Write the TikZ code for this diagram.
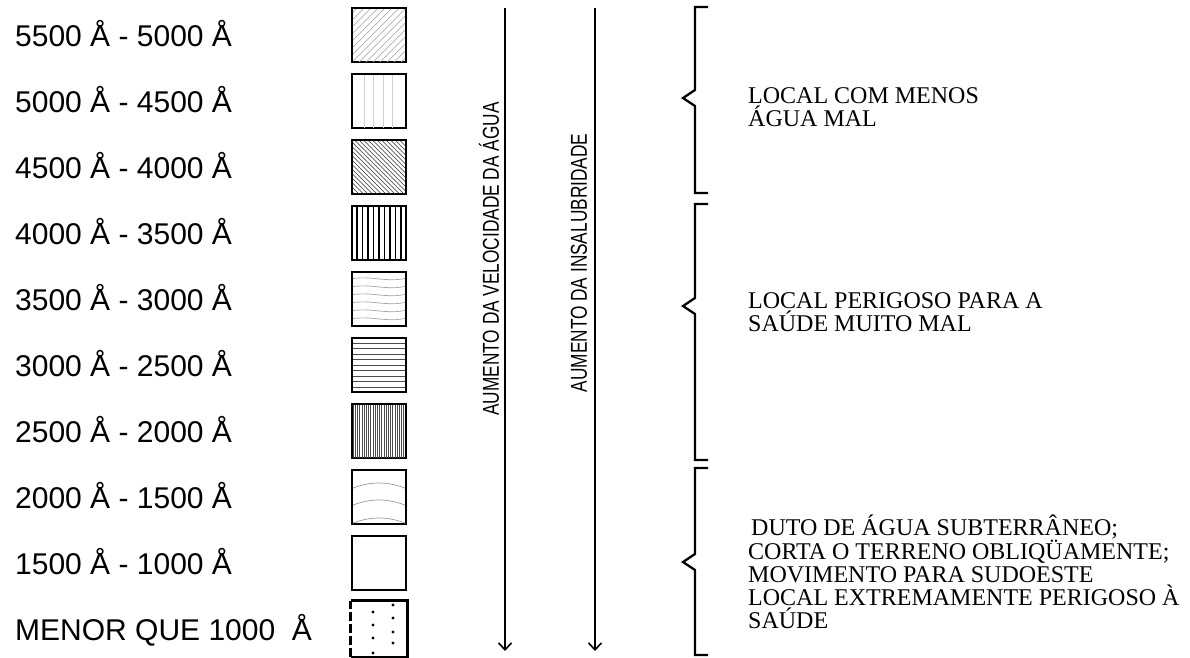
\documentclass[tikz,border=0pt]{standalone}
\usepackage{fontspec}
\setmainfont{Liberation Serif}
\setsansfont{Liberation Sans}
\usetikzlibrary{arrows.meta}
\begin{document}
\begin{tikzpicture}[x=1pt,y=-1pt,
  lbl/.style={anchor=base west,inner sep=0pt,font=\sffamily\fontsize{30}{34}\selectfont},
  boxn/.style={draw,line width=2.8pt,minimum width=54pt,minimum height=54pt,inner sep=0pt},
  vlbl/.style={rotate=90,inner sep=0pt,font=\sffamily\fontsize{23}{26}\selectfont},
  rtxt/.style={anchor=west,align=left,inner sep=0pt,font=\fontsize{24}{23}\selectfont},
  arr/.style={line width=1.6pt,-{Straight Barb[length=7pt,width=13pt,line width=1.6pt]}},
  brace/.style={line width=2.3pt,line join=miter},
  hatch/.style={line width=0.7pt}
]
\useasboundingbox (0,0) rectangle (1190,657);

% left labels
\node[lbl] (l1)  at (15,46)  {5500 Å - 5000 Å};
\node[lbl] (l2)  at (15,112) {5000 Å - 4500 Å};
\node[lbl] (l3)  at (15,178) {4500 Å - 4000 Å};
\node[lbl] (l4)  at (15,244) {4000 Å - 3500 Å};
\node[lbl] (l5)  at (15,310) {3500 Å - 3000 Å};
\node[lbl] (l6)  at (15,376) {3000 Å - 2500 Å};
\node[lbl] (l7)  at (15,442) {2500 Å - 2000 Å};
\node[lbl] (l8)  at (15,508) {2000 Å - 1500 Å};
\node[lbl] (l9)  at (15,574) {1500 Å - 1000 Å};
\node[lbl] (l10) at (15,640) {MENOR QUE 1000~ Å};

% boxes
\node[boxn] (b1)  at (379,35)  {};
\node[boxn] (b2)  at (379,101) {};
\node[boxn] (b3)  at (379,167) {};
\node[boxn] (b4)  at (379,233) {};
\node[boxn] (b5)  at (379,299) {};
\node[boxn] (b6)  at (379,365) {};
\node[boxn] (b7)  at (379,431) {};
\node[boxn] (b8)  at (379,497) {};
\node[boxn] (b9)  at (379,563) {};
\node[boxn,draw=none] (b10) at (379,629) {};
\draw[line width=2.8pt] (b10.north west) -- (b10.north east) -- (b10.south east) -- (b10.south west);
\draw[line width=2.8pt,dash pattern=on 9pt off 3pt] (b10.south west) -- (b10.north west);

% patterns
\begin{scope}[shift={(379,35)}]
  \clip (-26,-26) rectangle (26,26);
  \foreach \k in {-56,-49,...,56} \draw[hatch,black!30] (\k-28,28) -- (\k+28,-28);
\end{scope}
\begin{scope}[shift={(379,101)}]
  \clip (-26,-26) rectangle (26,26);
  \foreach \k in {-15,-6,4,13} \draw[hatch,black!18] (\k,-27) -- (\k,27);
\end{scope}
\begin{scope}[shift={(379,167)}]
  \clip (-26,-26) rectangle (26,26);
  \foreach \k in {-56,-51.5,...,56} \draw[hatch,black!80] (\k-28,-28) -- (\k+28,28);
\end{scope}
\begin{scope}[shift={(379,233)}]
  \clip (-26,-26) rectangle (26,26);
  \foreach \k in {-22,-16.5,...,23} \draw[line width=1.1pt,black] (\k,-27) -- (\k,27);
\end{scope}
\begin{scope}[shift={(379,299)}]
  \clip (-26,-26) rectangle (26,26);
  \foreach \k in {-20,-12,...,21} \draw[hatch,black!35] (-28,\k) .. controls (-10,\k-4) and (8,\k+4) .. (28,\k-1);
\end{scope}
\begin{scope}[shift={(379,365)}]
  \clip (-26,-26) rectangle (26,26);
  \foreach \k in {-22,-16.5,...,23} \draw[hatch,black!70] (-28,\k) -- (28,\k);
\end{scope}
\begin{scope}[shift={(379,431)}]
  \clip (-26,-26) rectangle (26,26);
  \foreach \k in {-26,-23.8,...,26} \draw[line width=0.6pt,black!70] (\k,-27) -- (\k,27);
\end{scope}
\begin{scope}[shift={(379,497)}]
  \clip (-26,-26) rectangle (26,26);
  \foreach \k in {-12,5,23} \draw[hatch,black!40] (-28,\k+4) .. controls (-10,\k-4) and (10,\k-4) .. (28,\k+4);
\end{scope}
\begin{scope}[shift={(379,629)}]
  \foreach \p in {(-6,-17),(-6,-4),(-6,9),(-6,24),(14,-24),(14,-11),(14,3),(14,14)}
    \fill \p circle (1.6);
\end{scope}

% arrows
\coordinate (a1s) at (505,8);
\coordinate (a1e) at (505,651);
\coordinate (a2s) at (595,8);
\coordinate (a2e) at (595,651);
\draw[arr] (a1s) -- (a1e);
\draw[arr] (a2s) -- (a2e);
\node[vlbl] (t1) at (489,259) {\scalebox{0.75}[1]{AUMENTO DA VELOCIDADE DA ÁGUA}};
\node[vlbl] (t2) at (579,263) {\scalebox{0.75}[1]{AUMENTO DA INSALUBRIDADE}};

% braces
\draw[brace] (708,7) -- (695,7) -- (695,90) -- (683,98) -- (695,106) -- (695,193) -- (708,193);
\draw[brace] (708,204) -- (695,204) -- (695,298) -- (683,306) -- (695,314) -- (695,460) -- (708,460);
\draw[brace] (708,468) -- (695,468) -- (695,554) -- (683,562) -- (695,570) -- (695,655) -- (708,655);

% right texts
\node[rtxt] (r1) at (748,107) {LOCAL COM MENOS\\ÁGUA MAL};
\node[rtxt] (r2) at (748,312) {LOCAL PERIGOSO PARA A\\SAÚDE MUITO MAL};
\node[rtxt] (r3) at (748,572) {\hspace*{3pt}DUTO DE ÁGUA SUBTERRÂNEO;\\CORTA O TERRENO OBLIQÜAMENTE;\\MOVIMENTO PARA SUDOESTE\\LOCAL EXTREMAMENTE PERIGOSO À\\SAÚDE};
\end{tikzpicture}
\end{document}
